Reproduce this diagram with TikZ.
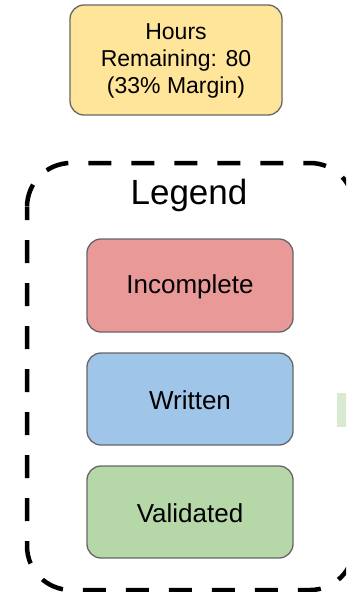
\documentclass[tikz,border=0pt]{standalone}
\usepackage{fontspec}
\setmainfont{Liberation Sans}
\definecolor{hoursfill}{HTML}{FFE599}
\definecolor{redfill}{HTML}{EA9999}
\definecolor{bluefill}{HTML}{9FC5E8}
\definecolor{greenfill}{HTML}{B6D7A8}
\definecolor{palegreen}{HTML}{D9EAD3}
\definecolor{edgegray}{HTML}{666666}
\begin{document}
\begin{tikzpicture}[x=1pt,y=-1pt,
  card/.style={draw=edgegray, line width=1.3pt, rounded corners=14pt},
  cardtext/.style={font=\fontsize{26}{30}\selectfont, align=center}]
  \useasboundingbox (0,0) rectangle (346,592);
  \begin{scope}
    \clip (0,0) rectangle (346,592);
    % partially visible tile at the right edge
    \fill[palegreen] (337,393) rectangle (360,427);
    % hours summary
    \draw[card, fill=hoursfill] (70,5) rectangle (282,115);
    \node[font=\fontsize{23}{27}\selectfont, align=center] (hours) at (176,61)
      {Hours\\Remaining: 80\\(33\% Margin)};
    % legend frame
    \draw[line width=4.5pt, dash pattern=on 23pt off 20pt, dash phase=10pt,
          rounded corners=44pt] (27,163) rectangle (354,590);
    \node[font=\fontsize{35}{40}\selectfont] (legend) at (189,195) {Legend};
    % legend entries
    \draw[card, fill=redfill] (87,239) rectangle (293,332);
    \node[cardtext] (incomplete) at (190,287) {Incomplete};
    \draw[card, fill=bluefill] (87,353) rectangle (293,445);
    \node[cardtext] (written) at (190,400) {Written};
    \draw[card, fill=greenfill] (87,466) rectangle (293,558);
    \node[cardtext] (validated) at (190,513) {Validated};
  \end{scope}
\end{tikzpicture}
\end{document}
